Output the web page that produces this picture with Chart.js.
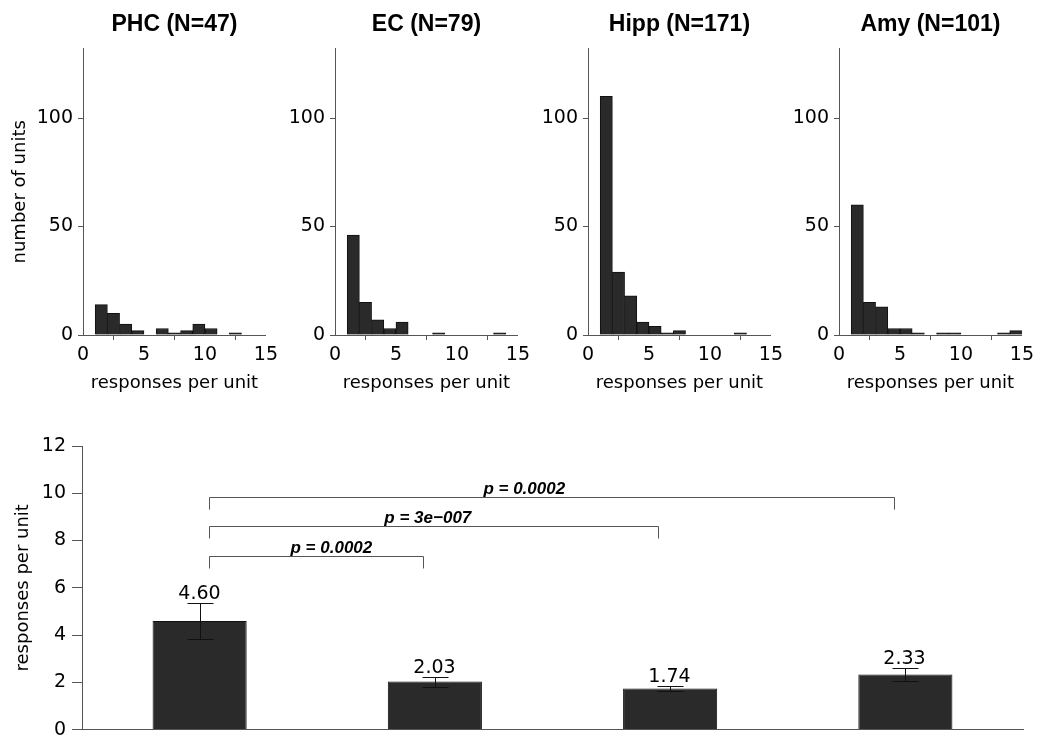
<!DOCTYPE html>
<html>
<head>
<meta charset="utf-8">
<script src="https://cdn.jsdelivr.net/npm/chart.js@4.4.0/dist/chart.umd.min.js"></script>
<style>
  body { margin: 0; background: #fff; }
  #wrap { position: relative; width: 1050px; height: 747px; overflow: hidden; }
  canvas { position: absolute; }
</style>
</head>
<body>
<div id="wrap">
  <canvas id="histPHC" width="282" height="400" style="left:0px;top:0px"></canvas>
  <canvas id="histEC" width="282" height="400" style="left:252px;top:0px"></canvas>
  <canvas id="histHipp" width="282" height="400" style="left:505px;top:0px"></canvas>
  <canvas id="histAmy" width="282" height="400" style="left:756px;top:0px"></canvas>
  <canvas id="barChart" width="1050" height="347" style="left:0px;top:400px"></canvas>
</div>
<script>
// histogram bins (responses per unit), lower edge of each bin
var binStarts = [0, 1, 2, 3, 4, 5, 6, 7, 8, 9, 10, 11, 12, 13, 14];
var phcCounts = [0, 14, 10, 5, 2, 0, 3, 1, 2, 5, 3, 0, 1, 0, 0];
var ecCounts = [0, 46, 15, 7, 3, 6, 0, 0, 1, 0, 0, 0, 0, 1, 0];
var hippCounts = [0, 110, 29, 18, 6, 4, 1, 2, 0, 0, 0, 0, 1, 0, 0];
var amyCounts = [0, 60, 15, 13, 3, 3, 1, 0, 1, 1, 0, 0, 0, 1, 2];
var histTitles = ['PHC (N=47)', 'EC (N=79)', 'Hipp (N=171)', 'Amy (N=101)'];

// mean responses per unit +- sem
var regions = ['PHC', 'EC', 'Hipp', 'Amy'];
var meanResponses = [4.60, 2.03, 1.74, 2.33];
var semResponses = [0.75, 0.21, 0.10, 0.29];

// significance comparisons
var pairs = [[0, 1], [0, 2], [0, 3]];
var pLabels = ['p = 0.0002', 'p = 3e\u2212007', 'p = 0.0002'];

var axisColor = '#555';
var barFill = '#2a2a2a';
var numFont = 'DejaVu Sans';

function makeHist(id, title, counts, showYTitle) {
    var ctx = document.getElementById(id).getContext('2d');
    return new Chart(ctx, {
        type: 'bar',
        data: {
            datasets: [{
                // empty bins are left out so nothing is drawn on the axis
                data: binStarts.map((b, i) => ({x: b + 0.5, y: counts[i] > 0 ? counts[i] : null})),
                backgroundColor: barFill,
                borderColor: '#111',
                borderWidth: 1,
                barPercentage: 1,
                categoryPercentage: 1
            }]
        },
        options: {
            responsive: false,
            animation: false,
            layout: {padding: {top: 0, right: 10, bottom: 0, left: 0}},
            plugins: {
                legend: {display: false},
                tooltip: {enabled: false},
                title: {
                    display: true,
                    text: title,
                    fullSize: false,
                    color: '#000',
                    font: {family: 'Liberation Sans', size: 23, weight: 'bold'},
                    padding: {top: 11, bottom: 10}
                }
            },
            scales: {
                x: {
                    type: 'linear',
                    min: 0,
                    max: 15,
                    offset: false,
                    afterFit: s => { s.height = 65; },
                    ticks: {stepSize: 5, color: '#000', padding: 4, font: {family: numFont, size: 19}},
                    grid: {display: true, drawOnChartArea: false, tickLength: 5, color: axisColor},
                    border: {display: true, color: axisColor},
                    title: {
                        display: true,
                        text: 'responses per unit',
                        color: '#000',
                        font: {family: numFont, size: 18},
                        padding: {top: 0, bottom: 6}
                    }
                },
                y: {
                    min: 0,
                    max: 132,
                    afterFit: s => { s.width = 83; },
                    ticks: {stepSize: 50, includeBounds: false, color: '#000', padding: 5, font: {family: numFont, size: 19}},
                    grid: {display: true, drawOnChartArea: false, tickLength: 5, color: axisColor},
                    border: {display: true, color: axisColor},
                    title: {
                        display: showYTitle,
                        text: 'number of units',
                        color: '#000',
                        font: {family: numFont, size: 18},
                        padding: {top: 10, bottom: 0}
                    }
                }
            }
        }
    });
}

makeHist('histPHC', histTitles[0], phcCounts, true);
makeHist('histEC', histTitles[1], ecCounts, false);
makeHist('histHipp', histTitles[2], hippCounts, false);
makeHist('histAmy', histTitles[3], amyCounts, false);

// error bars, value labels and p-value brackets
var statMarks = {
    id: 'statMarks',
    afterDatasetsDraw(chart, args, opts) {
        var ctx = chart.ctx;
        var x = chart.scales.x;
        var y = chart.scales.y;
        ctx.save();
        ctx.lineWidth = 1;
        meanResponses.forEach((m, i) => {
            var px = Math.round(x.getPixelForValue(i)) + 0.5;
            var top = Math.round(y.getPixelForValue(m + semResponses[i])) + 0.5;
            var bot = Math.round(y.getPixelForValue(m - semResponses[i])) + 0.5;
            ctx.strokeStyle = '#111';
            ctx.beginPath();
            ctx.moveTo(px, top); ctx.lineTo(px, bot);
            ctx.moveTo(px - 13, top); ctx.lineTo(px + 13, top);
            ctx.moveTo(px - 13, bot); ctx.lineTo(px + 13, bot);
            ctx.stroke();
            ctx.fillStyle = '#000';
            ctx.font = '19px "DejaVu Sans"';
            ctx.textAlign = 'center';
            ctx.textBaseline = 'alphabetic';
            ctx.fillText(m.toFixed(2), px - 1, top - 5);
        });

        ctx.strokeStyle = axisColor;
        ctx.font = 'italic bold 17px "Liberation Sans"';
        pairs.forEach((p, k) => {
            var x1 = Math.round(x.getPixelForValue(p[0] + opts.startShift)) + 0.5;
            var x2 = Math.round(x.getPixelForValue(p[1] - opts.endShift)) + 0.5;
            var yl = Math.round(y.getPixelForValue(opts.levels[k])) + 0.5;
            var yt = Math.round(y.getPixelForValue(opts.levels[k] - opts.drop)) + 0.5;
            ctx.beginPath();
            ctx.moveTo(x1, yt); ctx.lineTo(x1, yl); ctx.lineTo(x2, yl); ctx.lineTo(x2, yt);
            ctx.stroke();
            ctx.fillStyle = '#000';
            ctx.fillText(pLabels[k], x.getPixelForValue(opts.labelAt[k]), yl - 4);
        });
        ctx.restore();
    }
};

var barCtx = document.getElementById('barChart').getContext('2d');
var barChart = new Chart(barCtx, {
    type: 'bar',
    data: {
        labels: regions,
        datasets: [{
            data: meanResponses,
            backgroundColor: barFill,
            borderColor: '#111',
            borderWidth: 1,
            barPercentage: 0.4,
            categoryPercentage: 1
        }]
    },
    options: {
        responsive: false,
        animation: false,
        layout: {padding: {top: 46, right: 27, bottom: 0, left: 0}},
        plugins: {
            legend: {display: false},
            tooltip: {enabled: false},
            statMarks: {
                levels: [7.33, 8.6, 9.84],
                labelAt: [0.56, 0.97, 1.38],
                drop: 0.5,
                startShift: 0.04,
                endShift: 0.05
            }
        },
        scales: {
            x: {
                afterFit: s => { s.height = 14; },
                ticks: {display: false},
                grid: {display: false},
                border: {display: true, color: axisColor}
            },
            y: {
                min: 0,
                max: 12,
                afterFit: s => { s.width = 82; },
                ticks: {stepSize: 2, color: '#000', padding: 6, font: {family: numFont, size: 19}},
                grid: {display: true, drawOnChartArea: false, tickLength: 10, color: axisColor},
                border: {display: true, color: axisColor},
                title: {
                    display: true,
                    text: 'responses per unit',
                    color: '#000',
                    font: {family: numFont, size: 18},
                    padding: {top: 13, bottom: 0}
                }
            }
        }
    },
    plugins: [statMarks]
});
</script>
</body>
</html>
